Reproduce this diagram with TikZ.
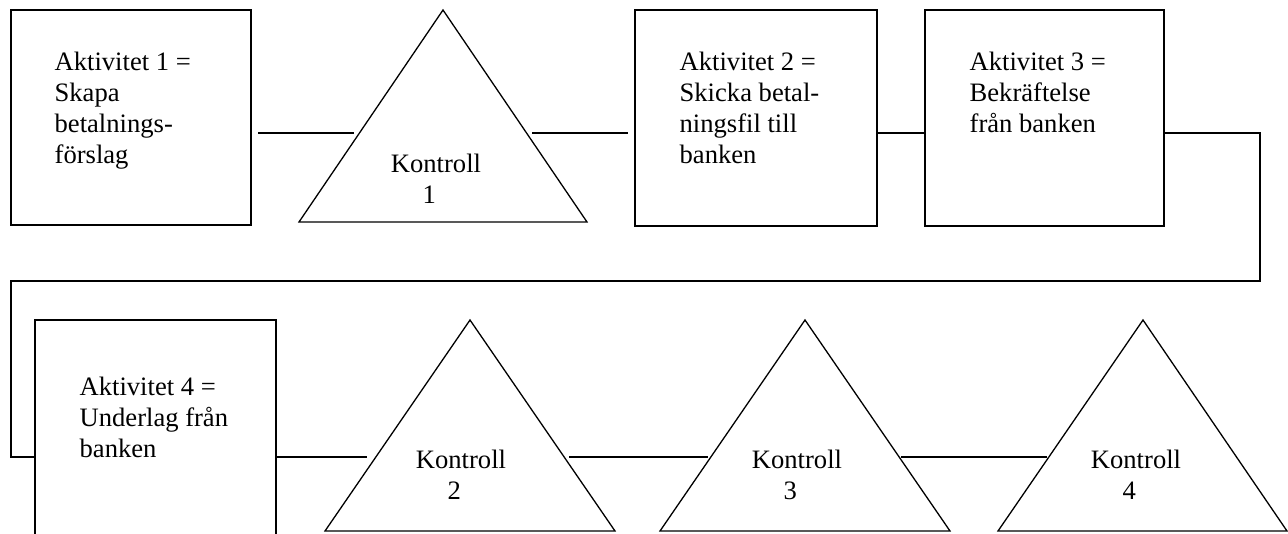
\documentclass[tikz,border=0pt]{standalone}
\usepackage{fontspec}
\setmainfont{Liberation Serif}
\begin{document}
\begin{tikzpicture}[x=1pt,y=-1pt,line width=1.3pt,
  box/.style={draw,inner sep=0pt,outer sep=0pt,anchor=north west},
  lbl/.style={anchor=north west,inner sep=0pt,align=left,font=\fontsize{26.6}{31}\selectfont},
  klbl/.style={anchor=north,inner sep=0pt,align=center,font=\fontsize{26.6}{31}\selectfont},
  conn/.style={draw,line width=1.3pt}]
\clip (0,0) rectangle (1288,533);
\fill[white] (0,0) rectangle (1288,533);
% activity boxes
\node[box,minimum width=240pt,minimum height=215pt] (b1) at (11,10) {};
\node[box,minimum width=242pt,minimum height=216pt] (b2) at (635,10) {};
\node[box,minimum width=239pt,minimum height=216pt] (b3) at (925,10) {};
\node[box,minimum width=241pt,minimum height=240pt] (b4) at (35,320) {};
\node[lbl] (l1) at (54,51) {Aktivitet 1 =\\Skapa\\betalnings-\\förslag};
\node[lbl] (l2) at (679,51) {Aktivitet 2 =\\Skicka betal-\\ningsfil till\\banken};
\node[lbl] (l3) at (969,51) {Aktivitet 3 =\\Bekräftelse\\från banken};
\node[lbl] (l4) at (79,376) {Aktivitet 4 =\\Underlag från\\banken};
% control triangles
\coordinate (t1a) at (443,10);  \coordinate (t1l) at (299,222); \coordinate (t1r) at (587,222);
\coordinate (t2a) at (470,320); \coordinate (t2l) at (325,531); \coordinate (t2r) at (615,531);
\coordinate (t3a) at (805,320); \coordinate (t3l) at (660,531); \coordinate (t3r) at (950,531);
\coordinate (t4a) at (1143,320); \coordinate (t4l) at (998,531); \coordinate (t4r) at (1287,531);
\draw (t1a) -- (t1l) -- (t1r) -- cycle;
\draw (t2a) -- (t2l) -- (t2r) -- cycle;
\draw (t3a) -- (t3l) -- (t3r) -- cycle;
\draw (t4a) -- (t4l) -- (t4r) -- cycle;
\node[klbl] (k1) at (436,153) {Kontroll\\1\hphantom{1}};
\node[klbl] (k2) at (461,449) {Kontroll\\2\hphantom{2}};
\node[klbl] (k3) at (797,449) {Kontroll\\3\hphantom{3}};
\node[klbl] (k4) at (1136,449) {Kontroll\\4\hphantom{4}};
% connector end points
\coordinate (c1a) at (258,133);  \coordinate (c1b) at (354,133);
\coordinate (c2a) at (532,133);  \coordinate (c2b) at (628,133);
\coordinate (c3a) at (877,133);  \coordinate (c3b) at (925,133);
\coordinate (c4a) at (1164,133); \coordinate (c4b) at (1260,133);
\coordinate (c4c) at (1260,281); \coordinate (c4d) at (11,281);
\coordinate (c4e) at (11,457);   \coordinate (c4f) at (35,457);
\coordinate (c5a) at (276,457);  \coordinate (c5b) at (367,457);
\coordinate (c6a) at (569,457);  \coordinate (c6b) at (708,457);
\coordinate (c7a) at (901,457);  \coordinate (c7b) at (1047,457);
\draw[conn] (c1a) -- (c1b);
\draw[conn] (c2a) -- (c2b);
\draw[conn] (c3a) -- (c3b);
\draw[conn] (c4a) -- (c4b) -- (c4c) -- (c4d) -- (c4e) -- (c4f);
\draw[conn] (c5a) -- (c5b);
\draw[conn] (c6a) -- (c6b);
\draw[conn] (c7a) -- (c7b);
\end{tikzpicture}
\end{document}
